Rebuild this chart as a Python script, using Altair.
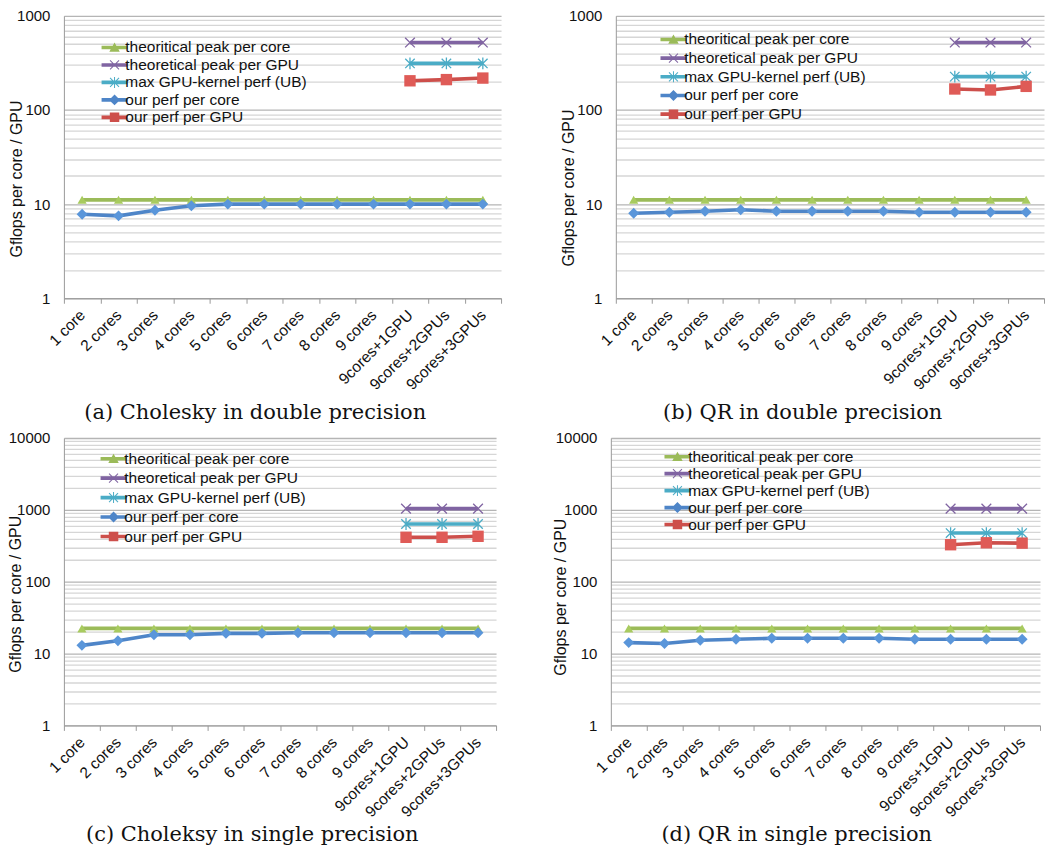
import altair as alt
import pandas as pd

categories = ["1 core", "2 cores", "3 cores", "4 cores", "5 cores", "6 cores",
              "7 cores", "8 cores", "9 cores", "9cores+1GPU", "9cores+2GPUs", "9cores+3GPUs"]
gpu_categories = ["9cores+1GPU", "9cores+2GPUs", "9cores+3GPUs"]
series_names = ["theoritical peak per core", "theoretical peak per GPU",
                "max GPU-kernel perf (UB)", "our perf per core", "our perf per GPU"]

# (a) Cholesky in double precision
a_peak_core = [11.1, 11.1, 11.1, 11.1, 11.1, 11.1, 11.1, 11.1, 11.1, 11.1, 11.1, 11.1]
a_peak_gpu = [520, 520, 520]
a_max_kernel = [312, 312, 312]
a_perf_core = [7.8, 7.5, 8.6, 9.6, 10.0, 10.0, 10.0, 10.0, 10.0, 10.0, 10.0, 10.0]
a_perf_gpu = [204, 210, 218]

# (b) QR in double precision
b_peak_core = [11.1, 11.1, 11.1, 11.1, 11.1, 11.1, 11.1, 11.1, 11.1, 11.1, 11.1, 11.1]
b_peak_gpu = [520, 520, 520]
b_max_kernel = [226, 226, 226]
b_perf_core = [8.0, 8.2, 8.4, 8.7, 8.4, 8.4, 8.4, 8.4, 8.2, 8.2, 8.2, 8.2]
b_perf_gpu = [167, 163, 178]

# (c) Choleksy in single precision
c_peak_core = [22.4, 22.4, 22.4, 22.4, 22.4, 22.4, 22.4, 22.4, 22.4, 22.4, 22.4, 22.4]
c_peak_gpu = [1040, 1040, 1040]
c_max_kernel = [635, 635, 635]
c_perf_core = [13.0, 15.1, 18.3, 18.3, 19.1, 19.1, 19.5, 19.5, 19.5, 19.5, 19.5, 19.5]
c_perf_gpu = [415, 415, 428]

# (d) QR in single precision
d_peak_core = [22.4, 22.4, 22.4, 22.4, 22.4, 22.4, 22.4, 22.4, 22.4, 22.4, 22.4, 22.4]
d_peak_gpu = [1040, 1040, 1040]
d_max_kernel = [475, 475, 475]
d_perf_core = [14.2, 13.8, 15.3, 15.8, 16.3, 16.3, 16.3, 16.3, 15.8, 15.8, 15.8, 15.8]
d_perf_gpu = [327, 348, 344]

FONT = "Liberation Sans"
line_colors = ["#9BBB59", "#8064A2", "#4BACC6", "#4E85C8", "#CD4F4B"]
marker_fill = ["#A8CB5F", "#8064A2", "#4BACC6", "#5A96DA", "#DF5B57"]


def poly(pts):
    area = sum(pts[i][0] * pts[(i + 1) % len(pts)][1] - pts[(i + 1) % len(pts)][0] * pts[i][1]
               for i in range(len(pts)))
    if area < 0:
        pts = pts[::-1]
    return "M" + "L".join(f"{x:.3f},{y:.3f}" for x, y in pts) + "Z"


def bar(x1, y1, x2, y2, t):
    dx, dy = x2 - x1, y2 - y1
    n = (dx * dx + dy * dy) ** 0.5
    px, py = -dy / n * t, dx / n * t
    return poly([(x1 + px, y1 + py), (x2 + px, y2 + py), (x2 - px, y2 - py), (x1 - px, y1 - py)])


line_bar = bar(-2.6, 0, 2.6, 0, 0.36)
legend_paths = [
    line_bar + poly([(0, -1.0), (1.05, 0.85), (-1.05, 0.85)]),
    line_bar + bar(-0.9, -0.9, 0.9, 0.9, 0.1) + bar(-0.9, 0.9, 0.9, -0.9, 0.1),
    line_bar + bar(-0.9, -0.9, 0.9, 0.9, 0.1) + bar(-0.9, 0.9, 0.9, -0.9, 0.1) + bar(0, -1.1, 0, 1.1, 0.1),
    line_bar + poly([(0, -1.1), (1.1, 0), (0, 1.1), (-1.1, 0)]),
    line_bar + poly([(-0.95, -0.95), (0.95, -0.95), (0.95, 0.95), (-0.95, 0.95)]),
]

X_PATH = "M-1,-1L1,1M-1,1L1,-1"
AST_PATH = "M-1,-1L1,1M-1,1L1,-1M0,-1.25L0,1.25"


def panel(caption, peak_core, peak_gpu, max_kernel, perf_core, perf_gpu, ymax,
          width, height, title_x, title_y, legend_x, legend_y, row_pad, cap_offset):
    rows = []
    for c, v in zip(categories, peak_core):
        rows.append({"cat": c, "series": series_names[0], "value": v})
    for c, v in zip(gpu_categories, peak_gpu):
        rows.append({"cat": c, "series": series_names[1], "value": v})
    for c, v in zip(gpu_categories, max_kernel):
        rows.append({"cat": c, "series": series_names[2], "value": v})
    for c, v in zip(categories, perf_core):
        rows.append({"cat": c, "series": series_names[3], "value": v})
    for c, v in zip(gpu_categories, perf_gpu):
        rows.append({"cat": c, "series": series_names[4], "value": v})
    df = pd.DataFrame(rows)

    tick_vals = []
    d = 1
    while d < ymax:
        tick_vals += [d * k for k in range(1, 10)]
        d *= 10
    tick_vals.append(ymax)
    major = "indexof([1,10,100,1000,10000], datum.value) >= 0"

    x = alt.X("cat:N", sort=categories,
              scale=alt.Scale(type="band", domain=categories, paddingInner=0, paddingOuter=0),
              axis=alt.Axis(title=None, tickBand="extent", labelAngle=-45, labelAlign="right",
                            labelBaseline="middle", labelFont=FONT, labelFontSize=15.5,
                            labelColor="#111", labelPadding=9, tickSize=5, tickColor="#9a9a9a",
                            domainColor="#9a9a9a", grid=False, labelOverlap=False))
    y = alt.Y("value:Q",
              scale=alt.Scale(type="log", domain=[1, ymax]),
              axis=alt.Axis(title="Gflops per core / GPU", values=tick_vals,
                            labelExpr=f"{major} ? format(datum.value, 'd') : ''",
                            labelFont=FONT, labelFontSize=15, labelColor="#111",
                            labelPadding=14, ticks=False, labelOverlap=False,
                            domainColor="#9a9a9a",
                            grid=True,
                            gridColor={"condition": {"test": major, "value": "#b5b5b5"}, "value": "#d6d6d6"},
                            gridWidth=1.3,
                            titleFont=FONT, titleFontSize=16, titleFontWeight="normal",
                            titleColor="#111", titleX=title_x, titleY=title_y,
                            titleBaseline="middle", titleAngle=270, titleAlign="center"))

    base = alt.Chart(df)
    layers = []
    markers = [
        dict(shape="triangle-up", filled=True, size=85, color=marker_fill[0], strokeWidth=0),
        dict(shape=X_PATH, filled=False, size=95, color=marker_fill[1], strokeWidth=1.3),
        dict(shape=AST_PATH, filled=False, size=90, color=marker_fill[2], strokeWidth=1.3),
        dict(shape="diamond", filled=True, size=120, color=marker_fill[3], strokeWidth=0),
        dict(shape="square", filled=True, size=130, color=marker_fill[4], strokeWidth=0),
    ]
    for i, name in enumerate(series_names):
        sub = base.transform_filter(alt.datum.series == name)
        layers.append(sub.mark_line(color=line_colors[i], strokeWidth=3.6).encode(x=x, y=y))
        layers.append(sub.mark_point(opacity=1, **markers[i]).encode(x=x, y=y))

    leg = alt.Legend(title=None, orient="none", legendX=legend_x, legendY=legend_y,
                     labelFont=FONT, labelFontSize=15.5, labelColor="#111",
                     symbolSize=100, symbolStrokeWidth=0, labelOffset=3,
                     rowPadding=row_pad, padding=0, labelLimit=400)
    legend_layer = base.transform_filter("false").mark_point(filled=True, opacity=1).encode(
        x=x, y=y,
        color=alt.Color("series:N", scale=alt.Scale(domain=series_names, range=line_colors), legend=leg),
        shape=alt.Shape("series:N", scale=alt.Scale(domain=series_names, range=legend_paths), legend=leg),
    )
    layers.append(legend_layer)

    return alt.layer(*layers).properties(
        width=width, height=height,
        title=alt.TitleParams(text=caption, orient="bottom", anchor="middle", frame="bounds",
                              font="DejaVu Serif", fontSize=21, fontWeight="normal",
                              color="#111", offset=cap_offset),
    )


pa = panel("(a) Cholesky in double precision", a_peak_core, a_peak_gpu, a_max_kernel,
           a_perf_core, a_perf_gpu, 1000, 438, 283, -47, 163, 43, 24, 0.5, 9)
pb = panel("(b) QR in double precision", b_peak_core, b_peak_gpu, b_max_kernel,
           b_perf_core, b_perf_gpu, 1000, 429, 283, -47, 172, 50, 16, 1.7, 9)
pc = panel("(c) Choleksy in single precision", c_peak_core, c_peak_gpu, c_max_kernel,
           c_perf_core, c_perf_gpu, 10000, 433, 288, -48, 156, 42, 13, 2.5, 4)
pd_ = panel("(d) QR in single precision", d_peak_core, d_peak_gpu, d_max_kernel,
            d_perf_core, d_perf_gpu, 10000, 430, 288, -50, 159, 59, 11, 0, 4)

res = dict(color="independent", shape="independent")
row1 = alt.hconcat(pa, pb, spacing=59).resolve_scale(**res).resolve_legend(**res)
row2 = alt.hconcat(pc, pd_, spacing=56).resolve_scale(**res).resolve_legend(**res)
chart = (alt.vconcat(row1, row2, spacing=8)
         .resolve_scale(**res).resolve_legend(**res)
         .properties(padding=0, background="white")
         .configure_view(stroke=None))

chart.save("out.html", embed_options={"renderer": "svg", "actions": False})
